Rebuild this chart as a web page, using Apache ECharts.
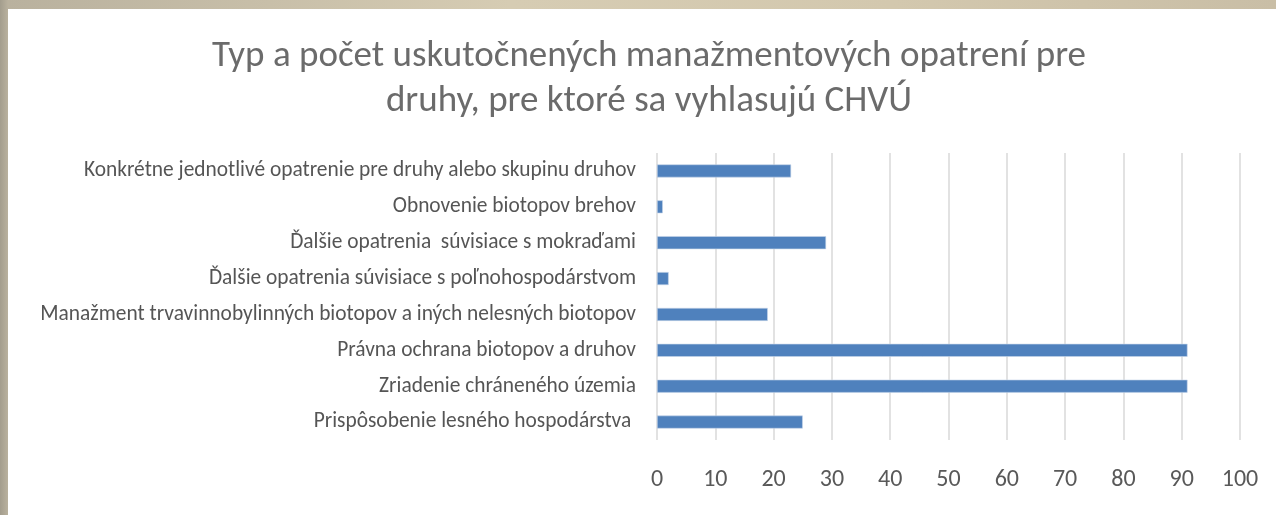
<!DOCTYPE html>
<html>
<head>
<meta charset="utf-8">
<script src="https://cdn.jsdelivr.net/npm/echarts@6/dist/echarts.min.js"></script>
<style>
  html, body { margin: 0; padding: 0; width: 1276px; height: 515px; overflow: hidden; }
  body { background: linear-gradient(90deg, #a39d8d 0px, #b9b19e 8px, #d6ccb3 40%, #d3c8ae 70%, #c9bea6 100%); }
  #chart { position: absolute; left: 8px; top: 9px; width: 1268px; height: 506px; background: #fff; }
</style>
</head>
<body>
<div id="chart"></div>
<script>
var categories = [
    'Konkrétne jednotlivé opatrenie pre druhy alebo skupinu druhov',
    'Obnovenie biotopov brehov',
    'Ďalšie opatrenia  súvisiace s mokraďami',
    'Ďalšie opatrenia súvisiace s poľnohospodárstvom',
    'Manažment trvavinnobylinných biotopov a iných nelesných biotopov',
    'Právna ochrana biotopov a druhov',
    'Zriadenie chráneného územia',
    'Prispôsobenie lesného hospodárstva '
];
var counts = [23, 1, 29, 2, 19, 91, 91, 25];
var xTicks = { min: 0, max: 100, step: 10 };

var myChart = echarts.init(document.getElementById('chart'));
var font = 'Carlito, "Liberation Sans Narrow", "Open Sans", sans-serif';
option = {
    title: {
        text: 'Typ a počet uskutočnených manažmentových opatrení pre\ndruhy, pre ktoré sa vyhlasujú CHVÚ',
        left: 636,
        textAlign: 'center',
        top: 20,
        textStyle: {
            color: '#6b6b6b',
            fontSize: 37,
            fontWeight: 'normal',
            fontFamily: font,
            lineHeight: 45
        }
    },
    grid: {
        left: 649,
        right: 36,
        top: 144,
        bottom: 75
    },
    xAxis: {
        type: 'value',
        min: xTicks.min,
        max: xTicks.max,
        interval: xTicks.step,
        axisLine: { show: false },
        axisTick: { show: false },
        axisLabel: {
            color: '#595959',
            fontSize: 24,
            fontFamily: font,
            margin: 28
        },
        splitLine: { lineStyle: { color: '#d9d9d9', width: 1.5 } }
    },
    yAxis: {
        type: 'category',
        inverse: true,
        data: categories,
        axisLine: { show: false },
        axisTick: { show: false },
        axisLabel: {
            color: '#555555',
            fontSize: 21.4,
            fontFamily: font,
            margin: 21
        }
    },
    series: [
        {
            type: 'bar',
            data: counts,
            barWidth: 13,
            itemStyle: {
                color: '#4f81bd',
                borderColor: '#c6d5ea',
                borderWidth: 0.6
            }
        }
    ]
};
myChart.setOption(option);
</script>
</body>
</html>
